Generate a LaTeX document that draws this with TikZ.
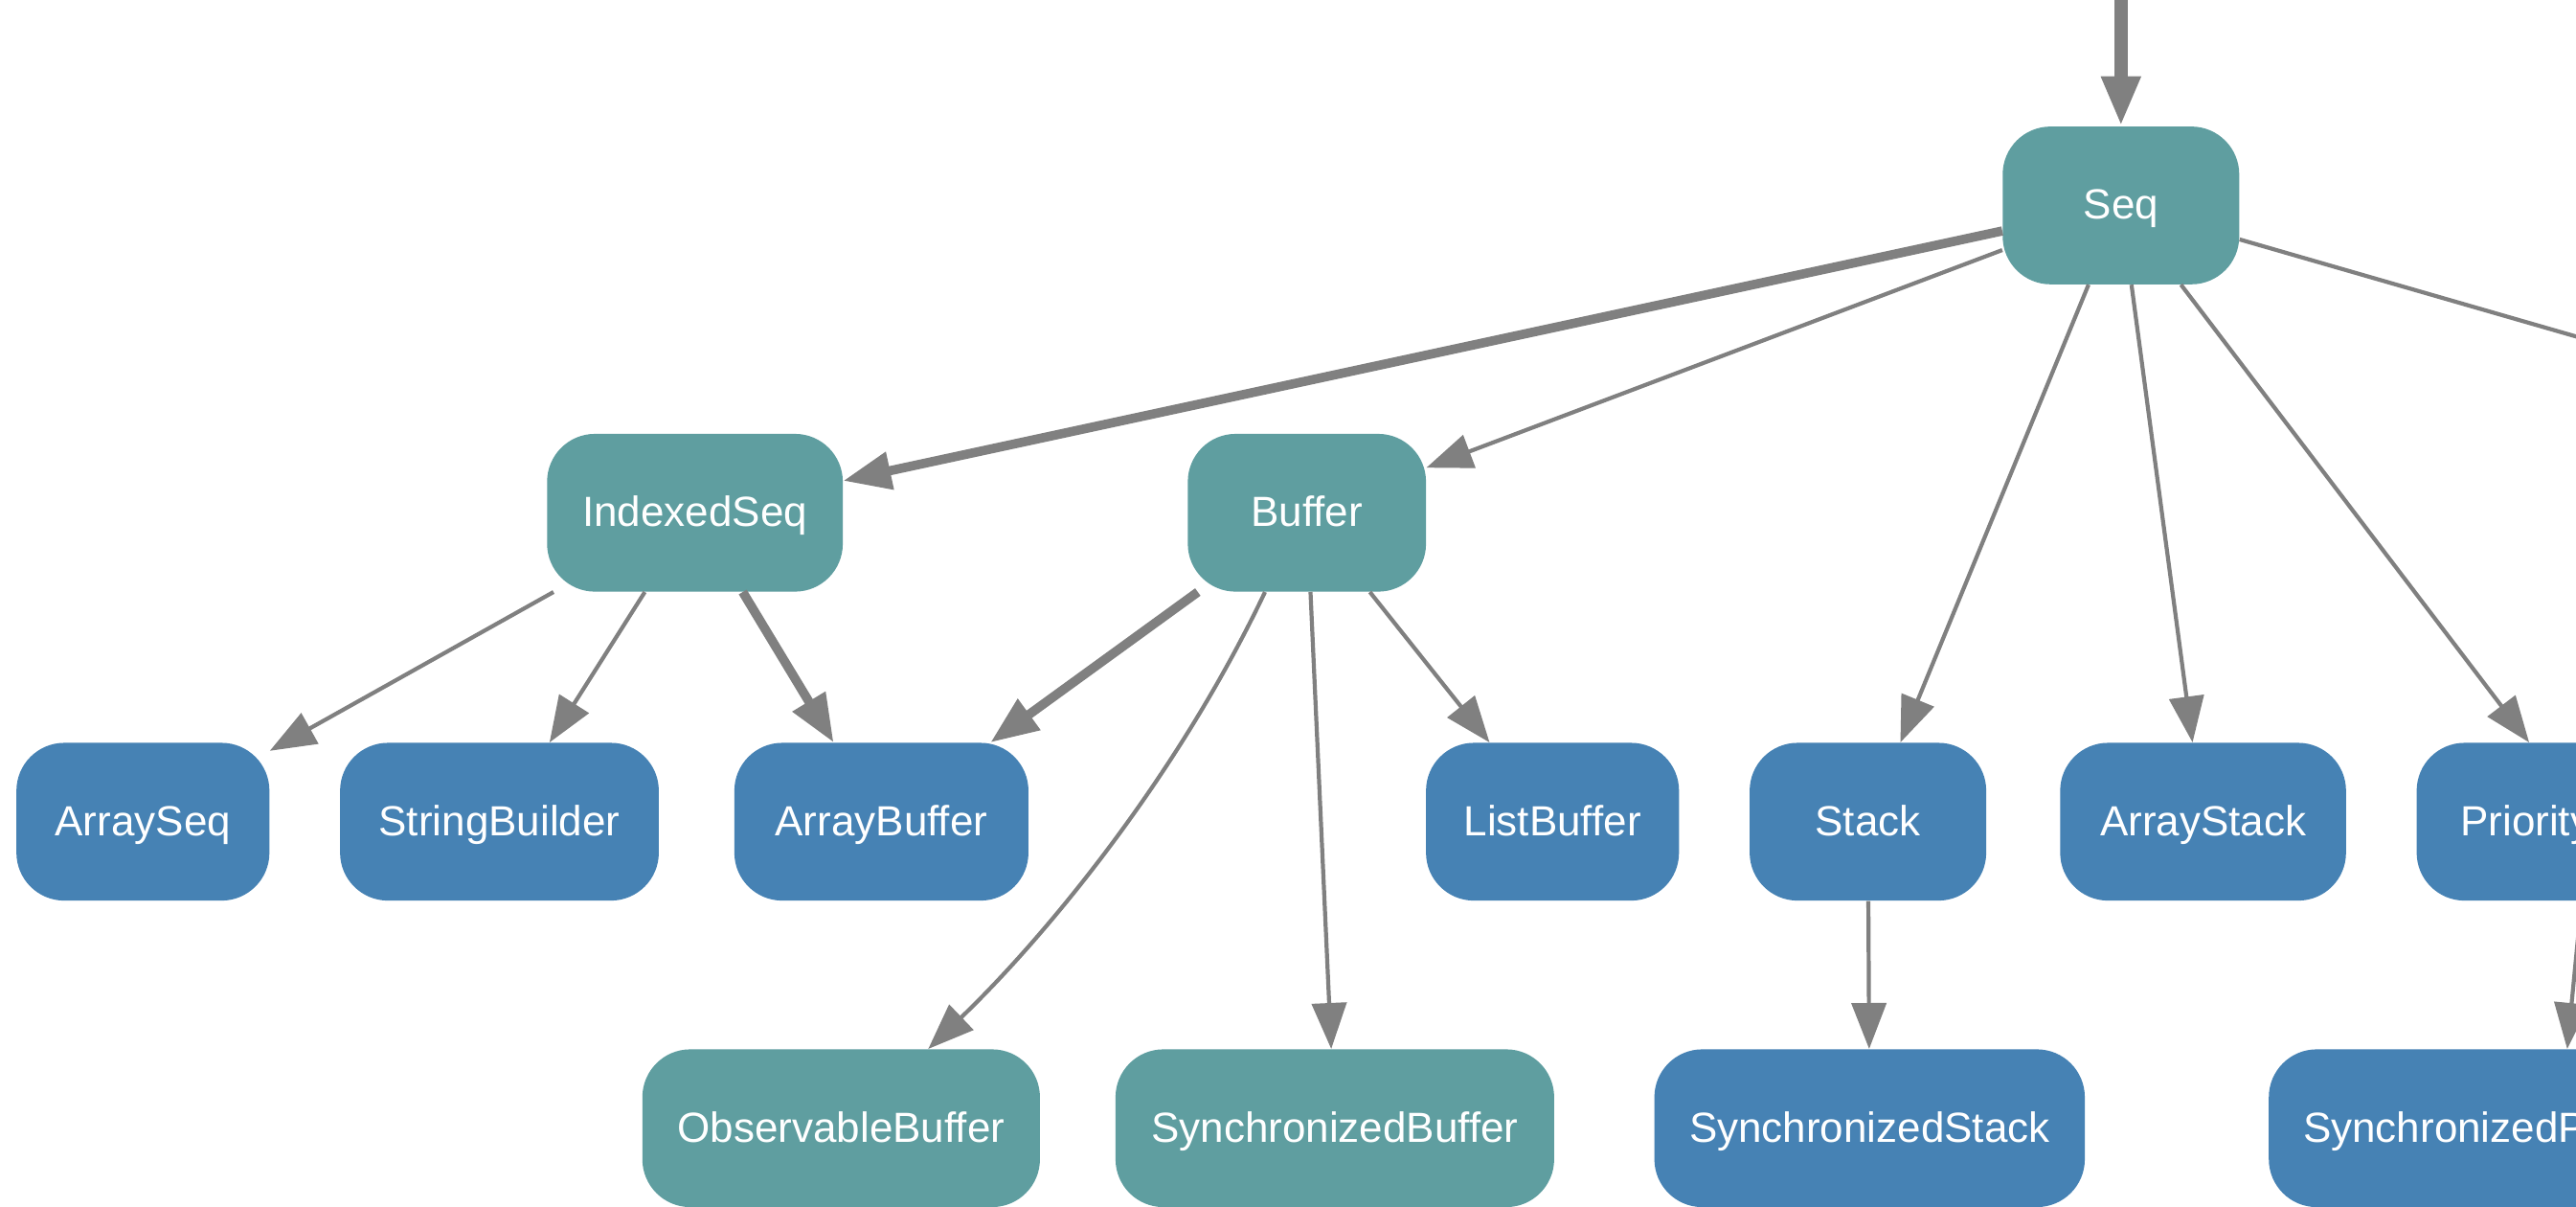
\documentclass[tikz,border=0pt]{standalone}
\usepackage{fontspec}
\setmainfont{Liberation Sans}
\usetikzlibrary{arrows.meta,calc}
\definecolor{cadet}{RGB}{95,158,160}
\definecolor{steel}{RGB}{70,130,180}
\definecolor{edgegray}{RGB}{128,128,128}
\tikzset{
  cls/.style={rounded corners=25pt, inner sep=0pt, minimum height={96*0.8578pt},
    text height=17.5pt, text depth=3pt,
    text=white, font=\fontsize{22}{26}\selectfont},
  tealnode/.style={cls, fill=cadet},
  bluenode/.style={cls, fill=steel},
  nw/.style={minimum width={#1*0.8578pt}},
  thinedge/.style={draw=edgegray, line width=2.1pt, -{Triangle[length=24pt,width=18pt]}},
  thickedge/.style={draw=edgegray, line width=4.8pt, -{Triangle[length=25pt,width=19pt]}},
  topedge/.style={draw=edgegray, line width=6.8pt, -{Triangle[length=26pt,width=19pt]}},
}
\begin{document}
\begin{tikzpicture}[x=0.8578pt,y=-0.8578pt]
\useasboundingbox (0,0) rectangle (1568,734);
\clip (0,0) rectangle (1568,734);
\fill[white] (0,0) rectangle (1568,734);
% nodes
\node[tealnode, nw=144] (seq) at (1291,125) {Seq};
\node[tealnode, nw=180] (iseq) at (423,312) {IndexedSeq};
\node[tealnode, nw=145] (buf) at (795.5,312) {Buffer};
\node[bluenode, nw=154] (aseq) at (87,500) {ArraySeq};
\node[bluenode, nw=194] (sb) at (304,500) {StringBuilder};
\node[bluenode, nw=179] (abuf) at (536.5,500) {ArrayBuffer};
\node[bluenode, nw=154] (lbuf) at (945,500) {ListBuffer};
\node[bluenode, nw=144] (stack) at (1137,500) {Stack};
\node[bluenode, nw=174] (astack) at (1341,500) {ArrayStack};
\node[bluenode, nw=210] (pq) at (1576,500) {PriorityQueue};
\node[tealnode, nw=242] (obs) at (512,686.5) {ObservableBuffer};
\node[tealnode, nw=267] (sbuf) at (812.5,686.5) {SynchronizedBuffer};
\node[bluenode, nw=262] (sstack) at (1138,686.5) {SynchronizedStack};
\node[bluenode, nw=354] (spq) at (1558,686.5) {SynchronizedPriorityQueue};
\coordinate (src) at (1291,-80);
\coordinate (offr) at (1940,312);
% edges
\draw[topedge] (src) -- (seq);
\draw[thickedge] (seq) -- (iseq);
\draw[thinedge] (seq) -- (buf);
\draw[thinedge] (seq) -- (stack);
\draw[thinedge] (seq) -- (astack);
\draw[thinedge] (seq) -- (pq);
\draw[thinedge] (seq) -- (offr);
\draw[thinedge] (iseq) -- (aseq);
\draw[thinedge] (iseq) -- (sb);
\draw[thickedge] (iseq) -- (abuf);
\draw[thickedge] (buf) -- (abuf);
\draw[thinedge] (buf) -- (lbuf);
\draw[thinedge] (buf) -- (sbuf);
\draw[thinedge] ($(buf.south)+(-25.5,0)$) .. controls (712,482) and (628,578) .. ($(obs.north)+(53,0)$);
\draw[thinedge] (stack) -- (sstack);
\draw[thinedge] (pq) -- (spq);
\end{tikzpicture}
\end{document}
